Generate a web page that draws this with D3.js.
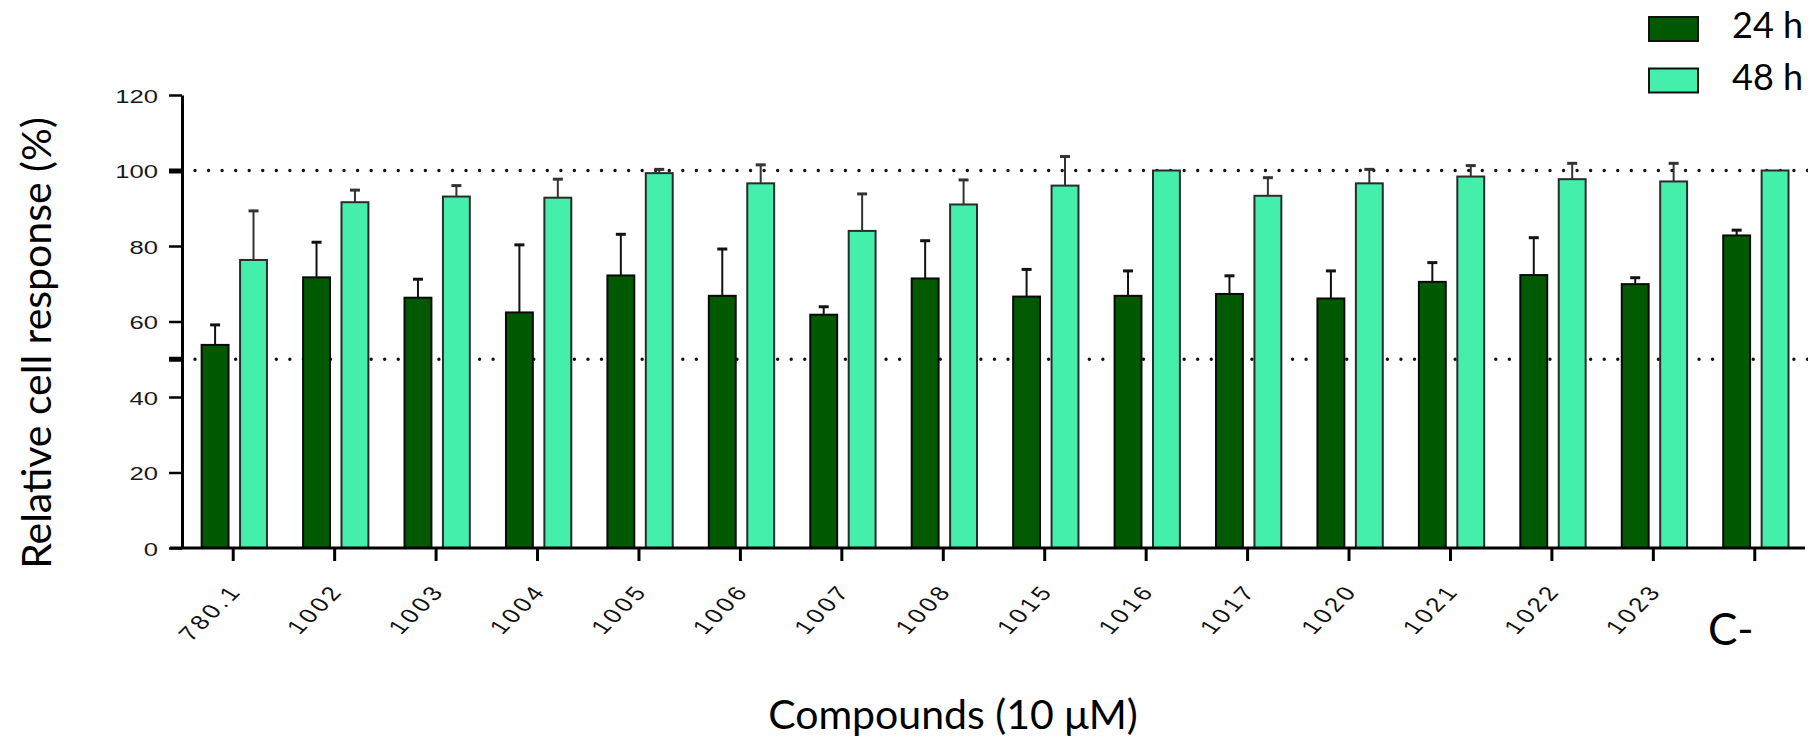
<!DOCTYPE html>
<html>
<head>
<meta charset="utf-8">
<script src="https://cdn.jsdelivr.net/npm/d3@7"></script>
<style>
  html, body { margin: 0; padding: 0; background: #fff; }
  svg { display: block; }
</style>
</head>
<body>
<svg id="chart" width="1808" height="739"></svg>
<script>
// Compounds tested at 10 µM, relative cell response after 24 h and 48 h
const categories = ["780.1","1002","1003","1004","1005","1006","1007","1008","1015","1016","1017","1020","1021","1022","1023","C-"];
const series = ["24 h", "48 h"];
const mean24 = [53.8, 71.7, 66.3, 62.4, 72.2, 66.8, 61.8, 71.4, 66.6, 66.8, 67.3, 66.1, 70.5, 72.3, 69.9, 82.8];
const sd24   = [ 5.3,  9.3,  4.9, 17.9, 10.9, 12.4,  2.1, 10.0,  7.2,  6.6,  4.8,  7.3,  5.1,  9.9,  1.7,  1.4];
const mean48 = [76.3, 91.6, 93.1, 92.8, 99.3, 96.6, 84.0, 91.0, 96.0, 100, 93.3, 96.6, 98.4, 97.7, 97.1, 100];
const sd48   = [13.0,  3.2,  2.9,  4.9,  1.0,  4.9,  9.8,  6.5,  7.7,   0,  4.8,  3.7,  2.9,  4.2,  4.8,   0];
const yTicks = [0, 20, 40, 60, 80, 100, 120];
const refLines = [100, 50];

const colors = { "24 h": "#015a02", "48 h": "#43efab" };
const outline = { "24 h": "#0a0a0a", "48 h": "#2b2b2b" };

const svg = d3.select("#chart");

const x = d3.scaleBand().domain(categories).range([182.5, 1805.5]).paddingInner(0).paddingOuter(0);
const sub = d3.scaleBand().domain(series).range([0, x.bandwidth()])
  .paddingInner(0.3).paddingOuter(0.47).align(0.53);
const y = d3.scaleLinear().domain([0, 120]).range([548, 95]);

const rows = categories.map((c, i) => ({
  cat: c,
  values: [
    { s: "24 h", mean: mean24[i], sd: sd24[i] },
    { s: "48 h", mean: mean48[i], sd: sd48[i] }
  ]
}));

// dotted reference lines at 100 % and 50 %
svg.append("g").selectAll("line").data(refLines).join("line")
  .attr("x1", 195).attr("x2", 1808)
  .attr("y1", d => y(d)).attr("y2", d => y(d))
  .attr("stroke", "#111").attr("stroke-width", 3.4)
  .attr("stroke-linecap", "round")
  .attr("stroke-dasharray", "0 13.55");

// grouped bars
const groups = svg.append("g").selectAll("g").data(rows).join("g")
  .attr("transform", d => `translate(${x(d.cat)},0)`);

groups.selectAll("rect").data(d => d.values).join("rect")
  .attr("x", d => sub(d.s))
  .attr("y", d => y(d.mean))
  .attr("width", sub.bandwidth())
  .attr("height", d => y(0) - y(d.mean))
  .attr("fill", d => colors[d.s])
  .attr("stroke", d => outline[d.s])
  .attr("stroke-width", 2);

// error bars (upper half, mean + SD)
const err = groups.selectAll("g.err").data(d => d.values.filter(v => v.sd > 0)).join("g")
  .attr("class", "err");
err.append("line")
  .attr("x1", d => sub(d.s) + sub.bandwidth() / 2)
  .attr("x2", d => sub(d.s) + sub.bandwidth() / 2)
  .attr("y1", d => y(d.mean))
  .attr("y2", d => y(d.mean + d.sd))
  .attr("stroke", d => d.s === "24 h" ? "#111" : "#333")
  .attr("stroke-width", 2);
err.append("line")
  .attr("x1", d => sub(d.s) + sub.bandwidth() / 2 - 5)
  .attr("x2", d => sub(d.s) + sub.bandwidth() / 2 + 5)
  .attr("y1", d => y(d.mean + d.sd))
  .attr("y2", d => y(d.mean + d.sd))
  .attr("stroke", d => d.s === "24 h" ? "#111" : "#333")
  .attr("stroke-width", 3);

// y axis
const yAxis = svg.append("g").attr("transform", "translate(182,0)")
  .call(d3.axisLeft(y).tickValues(yTicks).tickSize(13).tickSizeOuter(0).tickFormat(d3.format("d")));
yAxis.select(".domain").attr("stroke", "#000").attr("stroke-width", 3);
yAxis.selectAll(".tick line").attr("stroke", "#000")
  .attr("stroke-width", d => d === 100 ? 5 : 2.5);
yAxis.selectAll(".tick text")
  .attr("x", null).attr("dy", null)
  .attr("transform", "translate(-24,7) scale(1.35,1)")
  .attr("font-family", "'Liberation Sans', Arial, sans-serif")
  .attr("font-size", 19)
  .attr("fill", "#1a1a1a")
  .attr("text-anchor", "end");
// thick reference mark at 50 %
yAxis.append("line").attr("x1", -13).attr("x2", 0)
  .attr("y1", y(50)).attr("y2", y(50))
  .attr("stroke", "#000").attr("stroke-width", 5);

// x axis
const xAxis = svg.append("g").attr("transform", `translate(0,${y(0)})`)
  .call(d3.axisBottom(x).tickSize(13).tickSizeOuter(0).tickFormat(() => ""));
xAxis.select(".domain").attr("stroke", "#000").attr("stroke-width", 3)
  .attr("d", `M170,0H1805`);
xAxis.selectAll(".tick line").attr("stroke", "#000").attr("stroke-width", 3);

// rotated compound labels (horizontally widened, like the y tick labels)
const numbered = categories.slice(0, categories.length - 1);
svg.append("g").selectAll("text").data(numbered).join("text")
  .attr("transform", d => `translate(${x(d) + x.bandwidth() / 2 + 10},591) scale(1.3,1) rotate(-52)`)
  .attr("text-anchor", "end")
  .attr("font-family", "'Liberation Sans', Arial, sans-serif")
  .attr("font-size", 20)
  .attr("letter-spacing", 3)
  .attr("fill", "#111")
  .text(d => d);

// control label
const ctrl = categories[categories.length - 1];
svg.append("text")
  .attr("x", x(ctrl) + x.bandwidth() / 2 - 24)
  .attr("y", 645)
  .attr("text-anchor", "middle")
  .attr("font-family", "Lato, 'Open Sans', sans-serif")
  .attr("font-size", 44)
  .attr("fill", "#000")
  .text(ctrl);

// axis titles
svg.append("text")
  .attr("transform", "translate(51,343) rotate(-90)")
  .attr("text-anchor", "middle")
  .attr("font-family", "Lato, 'Open Sans', sans-serif")
  .attr("font-size", 41)
  .attr("fill", "#000")
  .text("Relative cell response (%)");

svg.append("text")
  .attr("x", 953).attr("y", 729)
  .attr("text-anchor", "middle")
  .attr("font-family", "Lato, 'Open Sans', sans-serif")
  .attr("font-size", 41)
  .attr("fill", "#000")
  .text("Compounds (10 \u03bcM)");

// legend
const legend = svg.append("g").selectAll("g").data(series).join("g")
  .attr("transform", (d, i) => `translate(1649,${17 + i * 51.5})`);
legend.append("rect")
  .attr("width", 49).attr("height", 24)
  .attr("fill", d => colors[d])
  .attr("stroke", "#111").attr("stroke-width", 2);
legend.append("text")
  .attr("x", 83).attr("y", 21)
  .attr("font-family", "Lato, 'Open Sans', sans-serif")
  .attr("font-size", 36)
  .attr("fill", "#000")
  .text(d => d);
</script>
</body>
</html>
